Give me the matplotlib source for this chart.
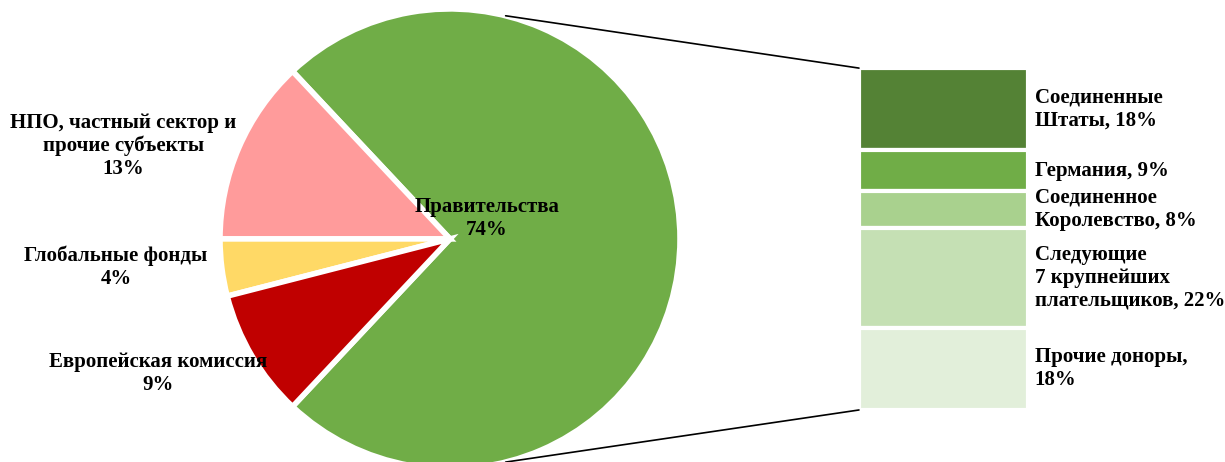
import numpy as np
import matplotlib.pyplot as plt
from matplotlib.patches import ConnectionPatch

plt.rcParams['font.family'] = ['Liberation Serif', 'DejaVu Serif']
plt.rcParams['font.weight'] = 'bold'

# Данные: круговая диаграмма
pie_labels = ['Правительства', 'НПО, частный сектор и\nпрочие субъекты',
              'Глобальные фонды', 'Европейская комиссия']
pie_values = [74, 13, 4, 9]
pie_colors = ['#70AD47', '#FF9B9B', '#FFD966', '#C00000']

# Данные: столбец "Правительства"
bar_labels = ['Соединенные\nШтаты', 'Германия', 'Соединенное\nКоролевство',
              'Следующие\n7 крупнейших\nплательщиков', 'Прочие доноры,\n']
bar_values = [18, 9, 8, 22, 18]
bar_colors = ['#548235', '#70AD47', '#A9D18E', '#C5E0B4', '#E2EFDA']

fig = plt.figure(figsize=(12.25, 4.62), dpi=100)

# Круг
ax_pie = fig.add_axes([0.1796, -0.015, 0.3755, 0.9957])
start = -pie_values[0] / 100 * 180
wedges, _ = ax_pie.pie(pie_values, colors=pie_colors, startangle=start,
                       radius=1.0, counterclock=True,
                       wedgeprops=dict(edgecolor='white', linewidth=4))
ax_pie.set_xlim(-1, 1)
ax_pie.set_ylim(-1, 1)
ax_pie.set_aspect('equal')
ax_pie.axis('off')

label_pos = [(0.16, 0.087), (-1.42, 0.404), (-1.452, -0.122), (-1.27, -0.587)]
for lab, val, (x, y) in zip(pie_labels, pie_values, label_pos):
    ax_pie.text(x, y, f'{lab}\n{val}%', ha='center', va='center',
                fontsize=15, fontweight='bold', linespacing=1.2)

# Столбец
ax_bar = fig.add_axes([0.7012, 0.1126, 0.138, 0.740])
total = sum(bar_values)
bottom = total
for lab, val, col in zip(bar_labels, bar_values, bar_colors):
    bottom -= val
    ax_bar.bar(0, val, bottom=bottom, width=1.0, color=col,
               edgecolor='white', linewidth=3)
    if lab.endswith('\n'):
        txt = f'{lab}{val}%'
    else:
        txt = f'{lab}, {val}%'
    ax_bar.text(1.04, bottom + val / 2, txt, transform=ax_bar.get_yaxis_transform(),
                ha='left', va='center', fontsize=15, fontweight='bold',
                linespacing=1.2)
ax_bar.set_xlim(-0.5, 0.5)
ax_bar.set_ylim(0, total)
ax_bar.axis('off')

# Соединительные линии
ang = np.deg2rad(76)
for sgn, ytop in [(1, total), (-1, 0)]:
    con = ConnectionPatch(xyA=(np.cos(ang), sgn * np.sin(ang)), coordsA=ax_pie.transData,
                          xyB=(-0.5, ytop), coordsB=ax_bar.transData,
                          color='black', linewidth=1.2)
    fig.add_artist(con)

fig.savefig('out.png', dpi=100)
